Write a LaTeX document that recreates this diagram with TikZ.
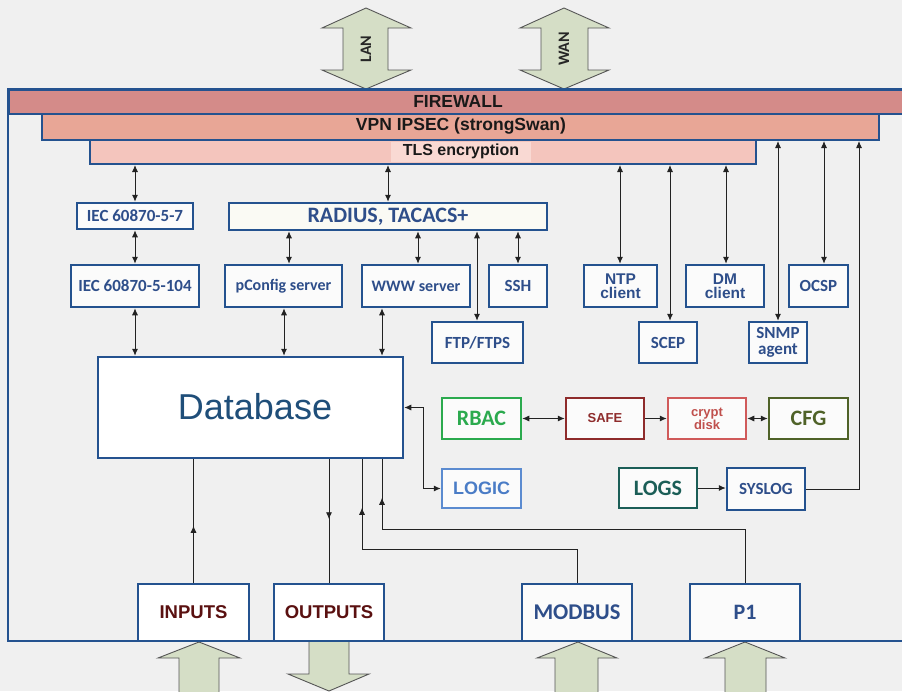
\documentclass[tikz,border=0pt]{standalone}
\usepackage{fontspec}
\newfontfamily\carl{Carlito}
\newfontfamily\arial{Liberation Sans}
\usetikzlibrary{arrows.meta,decorations.markings}
\newcommand\fsz[2]{\fontsize{#1}{#2}\selectfont}
\definecolor{bg}{HTML}{F0F0F0}
\definecolor{framec}{HTML}{24528F}
\definecolor{boxblue}{HTML}{24528F}
\definecolor{txtblue}{HTML}{2E4E8A}
\definecolor{boxfill}{HTML}{FBFBFB}
\definecolor{radfill}{HTML}{FAFAF4}
\definecolor{fwc}{HTML}{D48B89}
\definecolor{vpnc}{HTML}{E8A696}
\definecolor{tlsc}{HTML}{F4C5BD}
\definecolor{tlshl}{HTML}{F9D9D3}
\definecolor{dbblue}{HTML}{1F4E79}
\definecolor{rbacc}{HTML}{2BAA4E}
\definecolor{safec}{HTML}{8E2B2B}
\definecolor{cryptb}{HTML}{D05A5A}
\definecolor{cryptt}{HTML}{C0504D}
\definecolor{cfgc}{HTML}{4F6228}
\definecolor{logicb}{HTML}{5B8BD0}
\definecolor{logict}{HTML}{4A7CC6}
\definecolor{logsc}{HTML}{1B5E57}
\definecolor{iotxt}{HTML}{5A1010}
\definecolor{bigfill}{HTML}{D5DEC6}
\definecolor{bigdraw}{HTML}{555555}
\definecolor{linec}{HTML}{222222}
\begin{document}
\begin{tikzpicture}[x=1pt,y=-1pt,
  bx/.style={draw=boxblue, line width=2.5pt, fill=boxfill, text=txtblue, inner sep=0pt, align=center, font=\carl\bfseries\fsz{17}{17}},
  bar/.style={draw=framec, line width=2pt, inner sep=0pt, anchor=north west},
  con/.style={draw=linec, line width=0.9pt},
  dbl/.style={con, {Latex[length=7pt,width=6pt]}-{Latex[length=7pt,width=6pt]}},
  sgl/.style={con, -{Latex[length=7pt,width=6pt]}},
  midarrow/.style={postaction={decorate}, decoration={markings, mark=at position #1 with {\arrow{Latex[length=7pt,width=6pt]}}}},
  big/.style={fill=bigfill, draw=bigdraw, line width=0.9pt, line join=miter}
]
\useasboundingbox[fill=bg] (0,0) rectangle (902,691);

% big arrows top
\draw[big] (366,8) -- (411,28) -- (388,28) -- (388,70) -- (411,70) -- (366,89) -- (322,70) -- (343,70) -- (343,28) -- (322,28) -- cycle;
\draw[big] (564,8) -- (609,28) -- (588,28) -- (588,70) -- (609,70) -- (564,89) -- (520,70) -- (541,70) -- (541,28) -- (520,28) -- cycle;
\node[rotate=90, font=\carl\bfseries\fsz{16}{16}, text=black!85] (lant) at (366,49) {LAN};
\node[rotate=90, font=\carl\bfseries\fsz{16}{16}, text=black!85] (want) at (564,49) {WAN};

% big arrows bottom
\draw[big] (199,642) -- (240,658) -- (219,658) -- (219,695) -- (179,695) -- (179,658) -- (158,658) -- cycle;
\draw[big] (309,641) -- (349,641) -- (349,674) -- (369,674) -- (329,691) -- (288,674) -- (309,674) -- cycle;
\draw[big] (578,642) -- (617,658) -- (598,658) -- (598,695) -- (555,695) -- (555,658) -- (537,658) -- cycle;
\draw[big] (745,642) -- (785,658) -- (766,658) -- (766,695) -- (725,695) -- (725,658) -- (705,658) -- cycle;

% frame
\draw[framec, line width=2pt] (910,89) -- (8,89) -- (8,641) -- (910,641);

% bars
\node[bar, fill=fwc, minimum width=910pt, minimum height=24pt] (fw) at (8,89) {};
\node[font=\arial\bfseries\fsz{17.5}{17.5}, text=black!90] (fwt) at (458,101.5) {FIREWALL};
\node[bar, fill=vpnc, minimum width=837pt, minimum height=26pt] (vpn) at (41,113) {};
\node[font=\arial\bfseries\fsz{17.5}{17.5}, text=black!90] (vpnt) at (461,126.5) {VPN IPSEC (strongSwan)};
\node[bar, fill=tlsc, minimum width=666pt, minimum height=24pt] (tls) at (89,139) {};
\node[fill=tlshl, minimum width=140pt, minimum height=20pt, inner sep=0pt, font=\arial\bfseries\fsz{16}{16}, text=black!90] (tlst) at (461,151.5) {TLS encryption};

% boxes
\node[bx, minimum width=116pt, minimum height=26pt] (iec7) at (135,216) {IEC 60870-5-7};
\node[bx, fill=radfill, minimum width=318pt, minimum height=27pt, font=\carl\bfseries\fsz{22}{22}] (radius) at (388,216.5) {RADIUS, TACACS+};
\node[bx, minimum width=128pt, minimum height=42pt] (iec104) at (135,286) {IEC 60870-5-104};
\node[bx, minimum width=117pt, minimum height=42pt, font=\carl\bfseries\fsz{16}{16}] (pconf) at (283.5,286) {pConfig server};
\node[bx, minimum width=108pt, minimum height=42pt, font=\carl\bfseries\fsz{16}{16}] (www) at (416,286) {WWW server};
\node[bx, minimum width=58pt, minimum height=42pt] (ssh) at (518,286) {SSH};
\node[bx, minimum width=91pt, minimum height=41pt] (ftp) at (477.5,342.5) {FTP/FTPS};
\node[bx, minimum width=73pt, minimum height=42pt, font=\arial\bfseries\fsz{15.5}{14.5}] (ntp) at (620.5,286) {NTP\\client};
\node[bx, minimum width=78pt, minimum height=42pt, font=\arial\bfseries\fsz{15.5}{14.5}] (dm) at (725,286) {DM\\client};
\node[bx, minimum width=59pt, minimum height=42pt] (ocsp) at (818.5,286) {OCSP};
\node[bx, minimum width=58pt, minimum height=41pt] (scep) at (668,342.5) {SCEP};
\node[bx, minimum width=58pt, minimum height=41pt, font=\carl\bfseries\fsz{17}{16.5}] (snmp) at (778,342.5) {SNMP\\agent};
\node[bx, fill=white, minimum width=305pt, minimum height=101pt] (db) at (250.5,407.5) {};
\node[text=dbblue, font=\arial\fsz{36}{36}, inner sep=0pt] (dbt) at (255,407) {Database};

\node[bx, draw=rbacc, text=rbacc, minimum width=79pt, minimum height=41pt, font=\carl\bfseries\fsz{22}{22}] (rbac) at (481.5,418.5) {RBAC};
\node[bx, draw=safec, text=safec, minimum width=78pt, minimum height=41pt, font=\arial\bfseries\fsz{13}{13}] (safe) at (605,418.5) {SAFE};
\node[bx, draw=cryptb, text=cryptt, minimum width=78pt, minimum height=41pt, font=\arial\bfseries\fsz{13}{12}] (crypt) at (707,418.5) {crypt\\disk};
\node[bx, draw=cfgc, text=cfgc, minimum width=79pt, minimum height=41pt, font=\carl\bfseries\fsz{22}{22}] (cfg) at (808.5,418.5) {CFG};
\node[bx, draw=logicb, text=logict, minimum width=79pt, minimum height=39pt, font=\arial\bfseries\fsz{18}{18}] (logic) at (481.5,488.5) {LOGIC};
\node[bx, draw=logsc, text=logsc, minimum width=78pt, minimum height=40pt, font=\carl\bfseries\fsz{22}{22}] (logs) at (658,488) {LOGS};
\node[bx, minimum width=78pt, minimum height=42pt] (syslog) at (766,489) {SYSLOG};

\node[bx, fill=white, text=iotxt, minimum width=111pt, minimum height=57pt, font=\arial\bfseries\fsz{18.5}{18.5}] (inputs) at (193.5,612.5) {INPUTS};
\node[bx, fill=white, text=iotxt, minimum width=110pt, minimum height=57pt, font=\arial\bfseries\fsz{18.5}{18.5}] (outputs) at (329,612.5) {OUTPUTS};
\node[bx, minimum width=110pt, minimum height=57pt, font=\carl\bfseries\fsz{22.5}{22.5}] (modbus) at (577,612.5) {MODBUS};
\node[bx, minimum width=110pt, minimum height=57pt, font=\carl\bfseries\fsz{22}{22}] (p1) at (745,612.5) {P1};

% helper coordinates
\coordinate (x289) at (289,0);
\coordinate (x284) at (284,0);
\coordinate (x418) at (418,0);
\coordinate (x382) at (382,0);
\coordinate (x477) at (477,0);
\coordinate (x620) at (620,0);
\coordinate (x671) at (670,0);
\coordinate (x726) at (726,0);
\coordinate (x778) at (778,0);
\coordinate (x824) at (824,0);
\coordinate (x859) at (859,0);
\coordinate (x423) at (423,0);
\coordinate (x329) at (329,0);
\coordinate (x362) at (362,0);
\coordinate (y549) at (0,549);
\coordinate (y529) at (0,529);

% connectors top
\draw[dbl] (iec7.north |- tls.south) -- (iec7.north);
\draw[dbl] (iec7.south) -- (iec104.north);
\draw[dbl] (iec104.south) -- (iec104.south |- db.north);
\draw[dbl] (radius.north |- tls.south) -- (radius.north);
\draw[dbl] (x289 |- radius.south) -- (x289 |- pconf.north);
\draw[dbl] (x284 |- pconf.south) -- (x284 |- db.north);
\draw[dbl] (x418 |- radius.south) -- (x418 |- www.north);
\draw[dbl] (x382 |- www.south) -- (x382 |- db.north);
\draw[dbl] (ssh.north |- radius.south) -- (ssh.north);
\draw[dbl] (x477 |- radius.south) -- (x477 |- ftp.north);
\draw[dbl] (x620 |- tls.south) -- (x620 |- ntp.north);
\draw[dbl] (x671 |- tls.south) -- (x671 |- scep.north);
\draw[dbl] (x726 |- tls.south) -- (x726 |- dm.north);
\draw[dbl] (x778 |- vpn.south) -- (x778 |- snmp.north);
\draw[dbl] (x824 |- vpn.south) -- (x824 |- ocsp.north);
\draw[sgl] (syslog.east) -- (x859 |- syslog.east) -- (x859 |- vpn.south);

% middle
\draw[dbl] (db.east) -- (x423 |- db.east) -- (x423 |- logic.west) -- (logic.west);
\draw[dbl] (rbac.east) -- (safe.west);
\draw[sgl] (safe.east) -- (crypt.west);
\draw[dbl] (crypt.east) -- (cfg.west);
\draw[sgl] (logs.east) -- (logs.east -| syslog.west);

% bottom
\draw[con, midarrow=57pt] (inputs.north) -- (inputs.north |- db.south);
\draw[con, midarrow=60pt] (x329 |- db.south) -- (outputs.north);
\draw[con, midarrow=290pt] (modbus.north) -- (modbus.north |- y549) -- (x362 |- y549) -- (x362 |- db.south);
\draw[con, midarrow=448pt] (p1.north) -- (p1.north |- y529) -- (x382 |- y529) -- (x382 |- db.south);
\end{tikzpicture}
\end{document}
